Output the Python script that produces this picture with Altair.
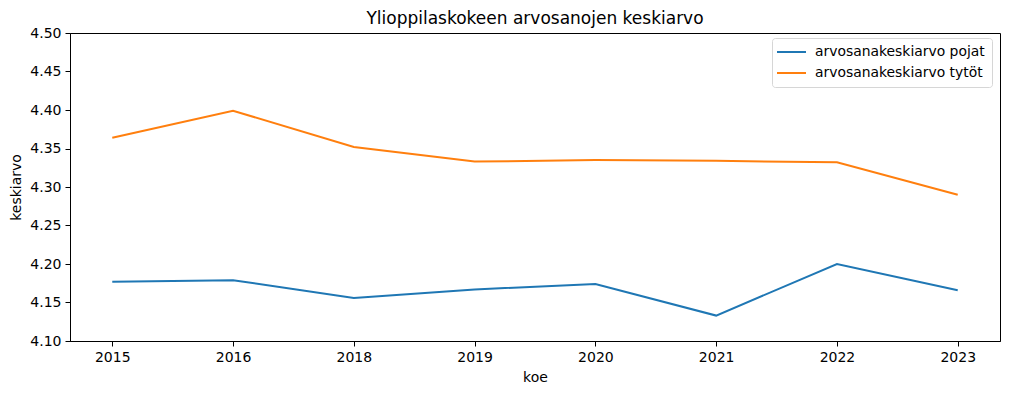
import altair as alt
import pandas as pd

years = ["2015", "2016", "2018", "2019", "2020", "2021", "2022", "2023"]
pojat = [4.177, 4.179, 4.156, 4.167, 4.174, 4.133, 4.200, 4.166]
tytot = [4.364, 4.399, 4.352, 4.333, 4.335, 4.334, 4.332, 4.290]
series_names = ["arvosanakeskiarvo pojat", "arvosanakeskiarvo tytöt"]
y_ticks = [4.10, 4.15, 4.20, 4.25, 4.30, 4.35, 4.40, 4.45, 4.50]

rows = []
for name, vals in zip(series_names, [pojat, tytot]):
    for yr, v in zip(years, vals):
        rows.append({"koe": yr, "keskiarvo": v, "sarja": name})
df = pd.DataFrame(rows)

chart = alt.Chart(df).mark_line(strokeWidth=2).encode(
    x=alt.X("koe:O", sort=years, title="koe",
            scale=alt.Scale(type="point", padding=0.35),
            axis=alt.Axis(labelAngle=0)),
    y=alt.Y("keskiarvo:Q", title="keskiarvo",
            scale=alt.Scale(domain=[4.10, 4.50], nice=False, zero=False),
            axis=alt.Axis(values=y_ticks, format=".2f")),
    color=alt.Color("sarja:N", title=None,
                    scale=alt.Scale(domain=series_names, range=["#1f77b4", "#ff7f0e"]),
                    legend=alt.Legend(orient="none", legendX=702, legendY=5,
                                      strokeColor="#d6d6d6",
                                      cornerRadius=3, padding=7, fillColor="white",
                                      symbolType="M-1.5,0H3.33", symbolSize=144,
                                      symbolStrokeWidth=2, labelFontSize=13.9,
                                      labelColor="black", labelOffset=22, rowPadding=7,
                                      labelLimit=0, labelFont="DejaVu Sans")),
).properties(
    width=930,
    height=308,
    title=alt.Title("Ylioppilaskokeen arvosanojen keskiarvo", fontSize=17,
                    fontWeight="normal", color="black", font="DejaVu Sans", offset=-2),
    autosize=alt.AutoSizeParams(type="none"),
    padding={"left": 62, "top": 25, "right": 2, "bottom": 52},
).configure(
    font="DejaVu Sans",
).configure_view(
    stroke="black", strokeWidth=1,
).configure_axis(
    grid=False, domainColor="black", tickColor="black", tickSize=5, labelPadding=4,
    labelFontSize=14, labelColor="black", labelFont="DejaVu Sans",
    titleFontSize=14, titleFontWeight="normal", titleColor="black", titleFont="DejaVu Sans",
    titlePadding=6,
)

chart.save("out.html", embed_options={"renderer": "svg", "actions": False})
